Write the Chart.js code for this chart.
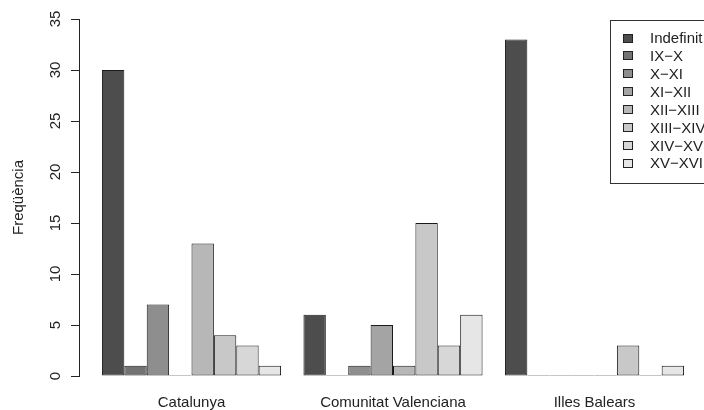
<!DOCTYPE html>
<html>
<head>
<meta charset="utf-8">
<script src="https://cdn.jsdelivr.net/npm/chart.js@4.4.0/dist/chart.umd.min.js"></script>
<style>
  html, body { margin: 0; padding: 0; background: #fff; }
  #wrap { width: 704px; height: 410px; position: relative; }
</style>
</head>
<body>
<div id="wrap"><canvas id="freqChart"></canvas></div>
<script>
const regions = ['Catalunya', 'Comunitat Valenciana', 'Illes Balears'];
const periods = ['Indefinit', 'IX\u2212X', 'X\u2212XI', 'XI\u2212XII', 'XII\u2212XIII', 'XIII\u2212XIV', 'XIV\u2212XV', 'XV\u2212XVI'];
const indefinit = [30, 6, 33];
const ixX = [1, 0, 0];
const xXi = [7, 1, 0];
const xiXii = [0, 5, 0];
const xiiXiii = [13, 1, 0];
const xiiiXiv = [4, 15, 3];
const xivXv = [3, 3, 0];
const xvXvi = [1, 6, 1];
const yTicks = [0, 5, 10, 15, 20, 25, 30, 35];
const greys = ['#4d4d4d', '#737373', '#8e8e8e', '#a4a4a4', '#b7b7b7', '#c8c8c8', '#d7d7d7', '#e6e6e6'];

const series = [indefinit, ixX, xXi, xiXii, xiiXiii, xiiiXiv, xivXv, xvXvi];
const font = '"Liberation Sans", Arial, sans-serif';

const ctx = document.getElementById('freqChart').getContext('2d');

// legend box like R's legend(), drawn in the top right corner
const boxLegend = {
    id: 'boxLegend',
    afterDraw(chart) {
        const c = chart.ctx;
        const left = 610, top = 20, bottom = 183;
        c.save();
        c.strokeStyle = '#333';
        c.lineWidth = 1;
        c.strokeRect(left + 0.5, top + 0.5, 140, bottom - top);
        c.font = '15px ' + font;
        c.textBaseline = 'middle';
        chart.data.datasets.forEach((ds, i) => {
            const y = 38 + i * 17.9;
            const sy = Math.round(y - 4.5);
            c.fillStyle = ds.backgroundColor;
            c.fillRect(623, sy, 10, 9);
            c.strokeStyle = '#222';
            c.strokeRect(623.5, sy + 0.5, 9, 8);
            c.fillStyle = '#222';
            c.fillText(ds.label, 650, y + 1);
        });
        c.restore();
    }
};

const chart = new Chart(ctx, {
    type: 'bar',
    data: {
        datasets: series.map((vals, i) => ({
            label: periods[i],
            data: vals.map((v, j) => ({x: j, y: v})),
            backgroundColor: greys[i],
            borderColor: '#1a1a1a',
            borderWidth: 1,
            borderSkipped: false,
            minBarLength: 1
        }))
    },
    options: {
        responsive: true,
        maintainAspectRatio: false,
        animation: false,
        categoryPercentage: 8 / 9,
        barPercentage: 1,
        layout: { padding: { top: 19, right: 0, left: 0, bottom: 0 } },
        scales: {
            x: {
                type: 'linear',
                offset: false,
                min: -0.5583,
                max: 2.5434,
                grid: { display: false, drawTicks: false },
                border: { display: false },
                afterBuildTicks: scale => { scale.ticks = regions.map((r, i) => ({value: i})); },
                afterFit: scale => { scale.height = 34; },
                ticks: {
                    padding: 18,
                    maxRotation: 0,
                    color: '#222',
                    font: { family: font, size: 15 },
                    callback: (v) => regions[v]
                }
            },
            y: {
                min: 0,
                max: 35,
                afterBuildTicks: scale => { scale.ticks = yTicks.map(v => ({value: v})); },
                afterFit: scale => { scale.width = 79; },
                grid: { drawOnChartArea: false, tickLength: 8, color: '#222' },
                border: { display: true, color: '#222' },
                title: {
                    display: true,
                    text: 'Freqüència',
                    color: '#222',
                    padding: { top: 9.5 },
                    font: { family: font, size: 15 }
                },
                ticks: {
                    minRotation: 90,
                    maxRotation: 90,
                    crossAlign: 'center',
                    padding: 7,
                    color: '#222',
                    font: { family: font, size: 15 }
                }
            }
        },
        plugins: {
            legend: { display: false },
            tooltip: { enabled: false }
        }
    },
    plugins: [boxLegend]
});
</script>
</body>
</html>
